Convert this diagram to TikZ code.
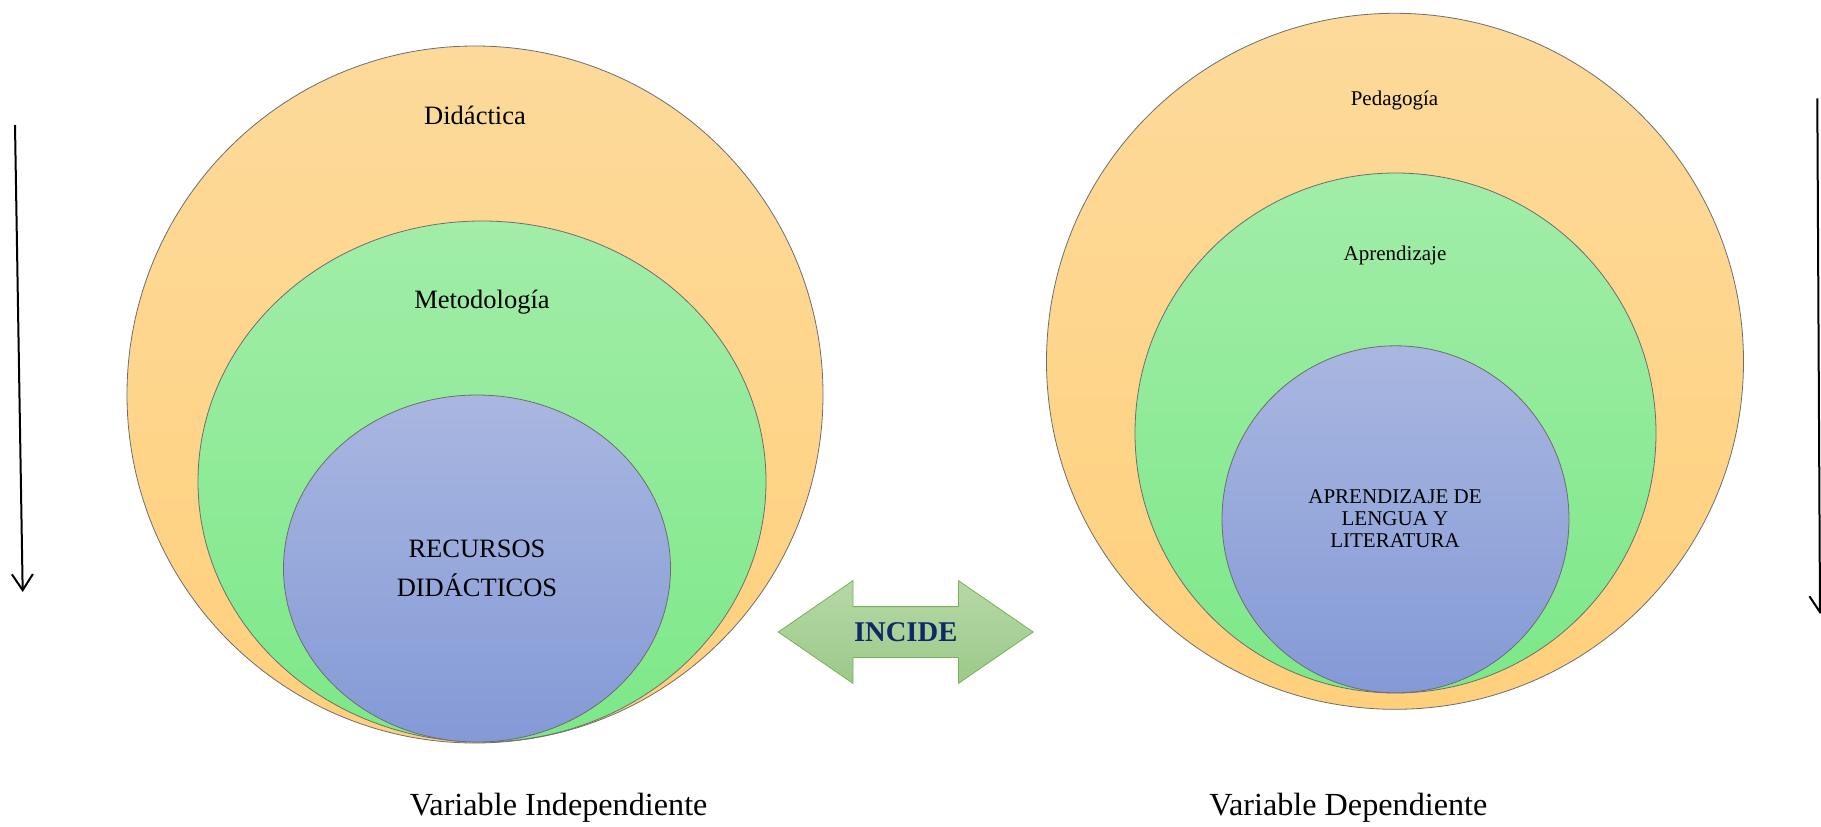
\documentclass[tikz,border=0pt]{standalone}
\usepackage{fontspec}
\setmainfont{Liberation Serif}
\usepackage{tikz}
\usetikzlibrary{shapes.geometric, shapes.arrows, arrows.meta}
\definecolor{orangeTop}{HTML}{FDDA9B}
\definecolor{orangeBot}{HTML}{FFD07C}
\definecolor{greenTop}{HTML}{A2EDA8}
\definecolor{greenBot}{HTML}{7CE888}
\definecolor{blueTop}{HTML}{A9B7E0}
\definecolor{blueBot}{HTML}{8499D6}
\definecolor{rim}{HTML}{6E6E6E}
\definecolor{arrowTop}{HTML}{B7D8A6}
\definecolor{arrowBot}{HTML}{9CC98A}
\definecolor{arrowRim}{HTML}{7AB258}
\definecolor{navy}{HTML}{0E2868}
\tikzstyle{ring} = [ellipse, draw=rim, line width=0.8pt, inner sep=0pt, outer sep=0pt]
\tikzstyle{outerring} = [ring, top color=orangeTop, bottom color=orangeBot]
\tikzstyle{midring} = [ring, top color=greenTop, bottom color=greenBot]
\tikzstyle{innerring} = [ring, top color=blueTop, bottom color=blueBot]
\tikzstyle{big} = [font=\fontsize{26.5}{39}\selectfont, align=center]
\tikzstyle{small} = [font=\fontsize{21}{22}\selectfont, align=center]
\tikzstyle{caption} = [font=\fontsize{32.2}{34}\selectfont]
\tikzstyle{arrow} = [line width=2pt, -{Straight Barb[length=16pt, width=21pt, line width=2pt]}]

\begin{document}
\begin{tikzpicture}[x=1pt, y=-1pt]
		\useasboundingbox (0,0) rectangle (1821,827);

		%Independent variable
		\node[outerring, minimum width=696pt, minimum height=697pt] (didactica) at (475,394.5) {};
		\node[midring, minimum width=568pt, minimum height=521pt] (metodologia) at (482,481.5) {};
		\node[innerring, minimum width=387pt, minimum height=347pt] (recursos) at (477,568.5) {};
		\node[big] at (475,115) {Didáctica};
		\node[big] at (482,302) {Metodología};
		\node[big] at (477,568.5) {RECURSOS\\DIDÁCTICOS};

		%Dependent variable
		\node[outerring, minimum width=697pt, minimum height=696pt] (pedagogia) at (1395,361.3) {};
		\node[midring, minimum width=521pt, minimum height=520pt] (aprendizaje) at (1395.5,433) {};
		\node[innerring, minimum width=347pt, minimum height=347pt] (lengua) at (1395.5,519.3) {};
		\node[small] at (1394.5,100) {Pedagogía};
		\node[small] at (1395,255) {Aprendizaje};
		\node[small] at (1395,519) {APRENDIZAJE DE\\LENGUA Y\\LITERATURA};

		%Incide
		\node[double arrow, draw=arrowRim, line width=0.8pt, top color=arrowTop, bottom color=arrowBot,
			double arrow head extend=26pt, double arrow tip angle=69, minimum height=255pt,
			text height=19pt, text depth=0pt, inner ysep=15.5pt,
			font=\bfseries\fontsize{28.6}{30}\selectfont, text=navy] (incide) at (905.7,632) {INCIDE};

		%Captions
		\node[caption] (indep) at (558.6,808) {Variable Independiente};
		\node[caption] (dep) at (1348.4,808) {Variable Dependiente};

		%Side arrows
		\coordinate (ltop) at (15,125);
		\coordinate (lbot) at (22.7,592);
		\coordinate (rtop) at (1817.3,98.3);
		\coordinate (rbot) at (1820,614);
		\draw[arrow] (ltop) -- (lbot);
		\draw[arrow] (rtop) -- (rbot);

	\end{tikzpicture}
\end{document}
